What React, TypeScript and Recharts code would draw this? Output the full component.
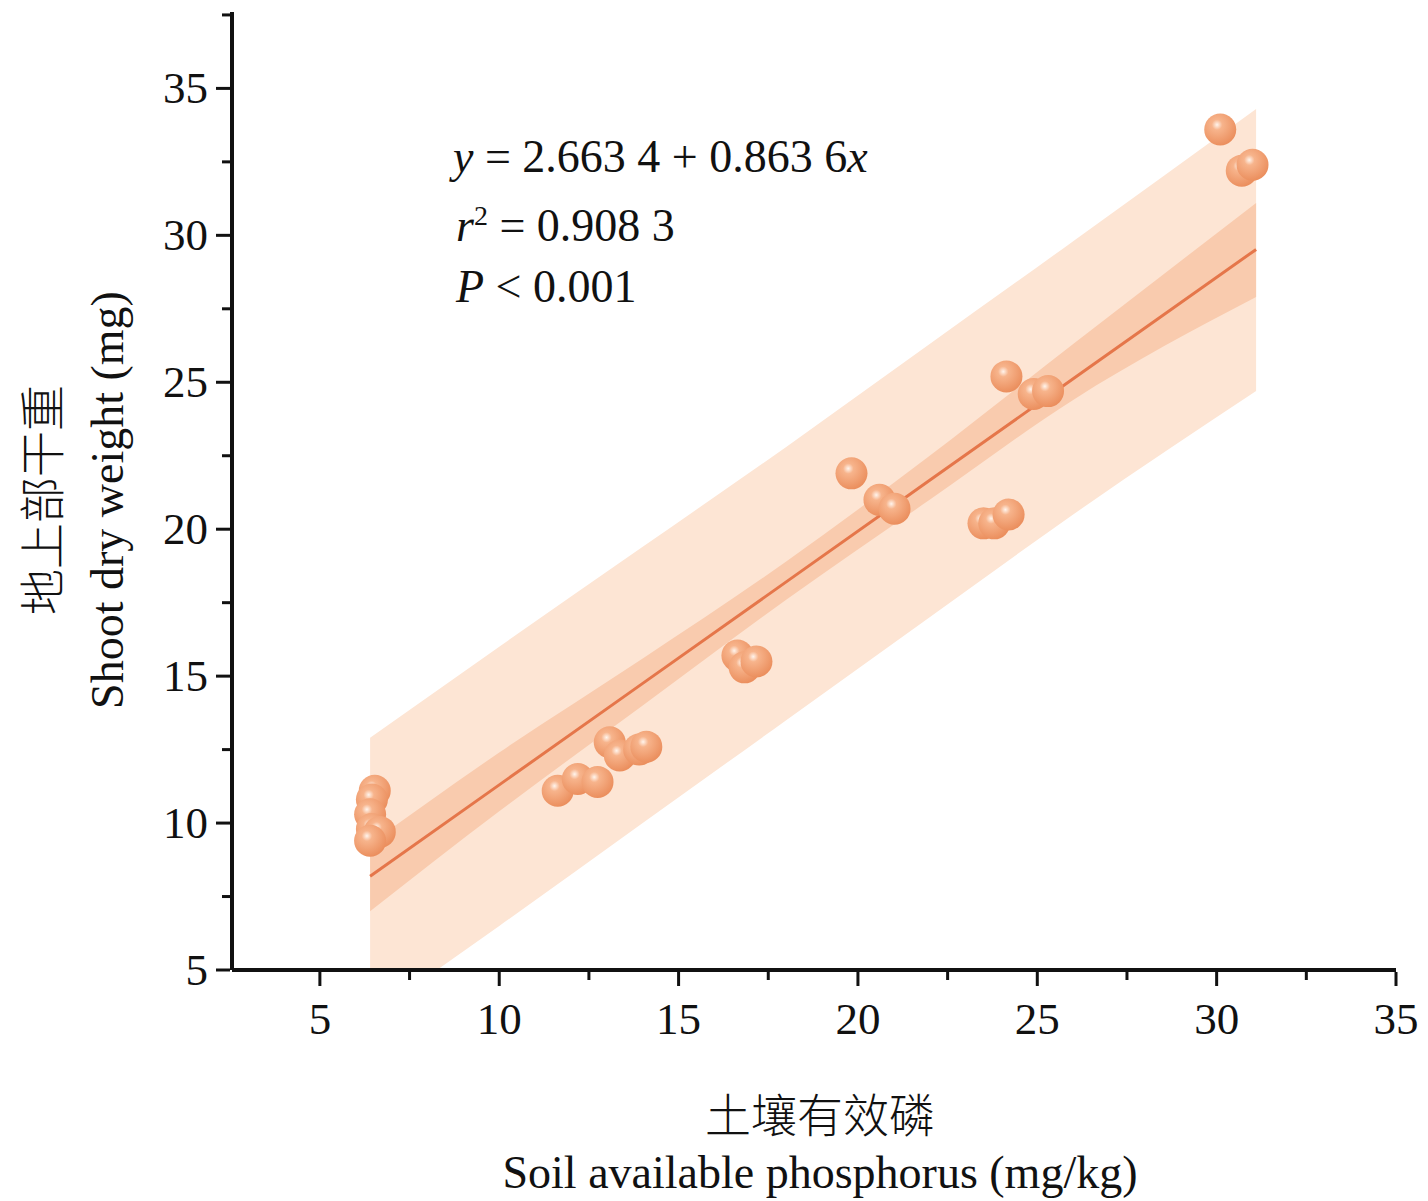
import React from "react";
import { ComposedChart, Area, Line, Scatter, XAxis, YAxis } from "recharts";

const soilP = [6.53, 6.45, 6.4, 6.45, 6.67, 6.4, 11.63, 12.19, 12.74, 13.08, 13.36, 13.9, 14.1, 16.64, 16.84, 17.17, 19.82, 20.6, 21.02, 23.5, 23.8, 24.2, 24.14, 24.9, 25.3, 30.1, 30.7, 31.0];
const shootDW = [11.1, 10.8, 10.3, 9.8, 9.7, 9.4, 11.1, 11.5, 11.4, 12.75, 12.3, 12.5, 12.6, 15.7, 15.3, 15.5, 21.9, 21.0, 20.7, 20.2, 20.2, 20.5, 25.2, 24.6, 24.7, 33.6, 32.2, 32.4];

const bandX = [6.4, 10, 14, 18, 22, 26, 31.1];
const predLow = [3.4, 6.5, 10.0, 13.5, 17.0, 20.5, 24.7];
const predHigh = [12.9, 16.0, 19.4, 22.8, 26.3, 29.8, 34.3];
const confLow = [7.0, 10.4, 14.0, 17.6, 21.0, 24.4, 27.9];
const confHigh = [9.3, 12.4, 15.6, 18.9, 22.5, 26.3, 31.1];
const intercept = 2.6634;
const slope = 0.8636;

const xTicks = [5, 7.5, 10, 12.5, 15, 17.5, 20, 22.5, 25, 27.5, 30, 32.5, 35];
const yTicks = [5, 7.5, 10, 12.5, 15, 17.5, 20, 22.5, 25, 27.5, 30, 32.5, 35, 37.5];

const bandData = bandX.map((x, i) => ({
  x,
  pred: [predLow[i], predHigh[i]],
  conf: [confLow[i], confHigh[i]],
  fit: intercept + slope * x,
}));
const points = soilP.map((x, i) => ({ x, y: shootDW[i] }));

const FONT = "'Liberation Serif', 'Times New Roman', 'Noto Sans CJK SC', serif";

const XTick = (p: any) => {
  const v = p.payload.value;
  const major = v % 5 === 0;
  return (
    <g>
      <line x1={p.x} x2={p.x} y1={p.y} y2={p.y + (major ? 14 : 8)} stroke="#111" strokeWidth={3} />
      {major && (
        <text x={p.x} y={p.y + 62} textAnchor="middle" fontSize={45} fontFamily={FONT} fill="#111">{v}</text>
      )}
    </g>
  );
};
const YTick = (p: any) => {
  const v = p.payload.value;
  const major = v % 5 === 0;
  return (
    <g>
      <line x1={p.x} x2={p.x - (major ? 14 : 8)} y1={p.y} y2={p.y} stroke="#111" strokeWidth={3} />
      {major && (
        <text x={p.x - 22} y={p.y + 15} textAnchor="end" fontSize={45} fontFamily={FONT} fill="#111">{v}</text>
      )}
    </g>
  );
};

const Ball = (p: any) => (
  <circle cx={p.cx} cy={p.cy} r={16} fill="url(#ballGrad)" />
);

export default function App() {
  const txt: React.CSSProperties = { position: "absolute", fontFamily: FONT, fontSize: 46, color: "#111", whiteSpace: "nowrap", lineHeight: 1 };
  return (
    <div style={{ position: "relative", width: 1420, height: 1190 }}>
      <ComposedChart width={1420} height={1190} margin={{ top: 4, right: 32, left: 0, bottom: 0 }}>
        <defs>
          <radialGradient id="ballGrad" cx="0.4" cy="0.35" r="0.65">
            <stop offset="0" stopColor="#fff4ec" />
            <stop offset="0.25" stopColor="#f7b48c" />
            <stop offset="1" stopColor="#eb8f5e" />
          </radialGradient>
        </defs>
        <XAxis type="number" dataKey="x" domain={[2.55, 35]} ticks={xTicks} allowDataOverflow height={228}
          axisLine={{ stroke: "#111", strokeWidth: 4 }} tickLine={false} tickSize={0} tick={<XTick />} interval={0} />
        <YAxis type="number" domain={[5, 37.6]} ticks={yTicks} allowDataOverflow width={224}
          axisLine={{ stroke: "#111", strokeWidth: 4 }} tickLine={false} tickSize={0} tick={<YTick />} interval={0} />
        <Area data={bandData} dataKey="pred" type="monotone" stroke="none" fill="#fde5d4" fillOpacity={1} isAnimationActive={false} />
        <Area data={bandData} dataKey="conf" type="monotone" stroke="none" fill="#f9cbae" fillOpacity={1} isAnimationActive={false} />
        <Line data={bandData} dataKey="fit" type="linear" stroke="#e5764a" strokeWidth={3} dot={false} isAnimationActive={false} />
        <Scatter data={points} dataKey="y" shape={<Ball />} isAnimationActive={false} />
      </ComposedChart>
      <div style={{ ...txt, left: 445, top: 126 }}><i>y</i> = 2.663 4 + 0.863 6<i>x</i></div>
      <div style={{ ...txt, left: 448, top: 194 }}><i>r</i><sup style={{ fontSize: 28 }}>2</sup> = 0.908 3</div>
      <div style={{ ...txt, left: 448, top: 256 }}><i>P</i> &lt; 0.001</div>
      <div style={{ ...txt, left: 812, top: 1086, transform: "translateX(-50%)", fontWeight: 300 }}>土壤有效磷</div>
      <div style={{ ...txt, left: 812, top: 1142, transform: "translateX(-50%)" }}>Soil available phosphorus (mg/kg)</div>
      <div style={{ ...txt, left: 36, top: 492, transform: "translate(-50%,-50%) rotate(-90deg)", fontWeight: 300 }}>地上部干重</div>
      <div style={{ ...txt, left: 100, top: 492, transform: "translate(-50%,-50%) rotate(-90deg)" }}>Shoot dry weight (mg)</div>
    </div>
  );
}
